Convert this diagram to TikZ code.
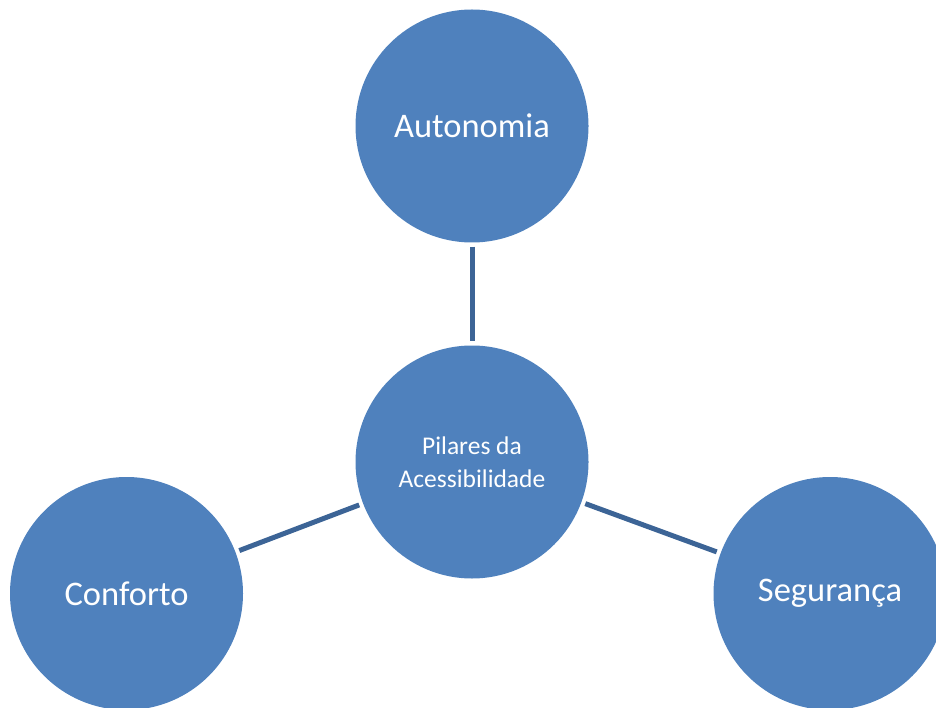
\documentclass[tikz,border=0pt]{standalone}
\usepackage{fontspec}
\setmainfont{Carlito}
\definecolor{fillblue}{HTML}{4F81BD}
\definecolor{lineblue}{HTML}{3C6496}
\begin{document}
\begin{tikzpicture}[x=1pt,y=-1pt,
  pillar/.style={circle,fill=fillblue,draw=none,minimum size=233pt,inner sep=0pt,text=white,font=\fontsize{34.5}{40}\selectfont,align=center},
  hub/.style={pillar,font=\fontsize{25.5}{33}\selectfont},
  link/.style={draw=lineblue,line width=5pt,shorten >=4pt,shorten <=4pt}]
\useasboundingbox (0,0) rectangle (936,708);
\begin{scope}
\clip (0,0) rectangle (936,708);
\node[pillar] (aut) at (472,126) {Autonomia};
\node[hub] (hub) at (472,462) {Pilares da\\Acessibilidade};
\node[pillar] (con) at (126.5,593.5) {Conforto};
\node[pillar] (seg) at (830,593.5) {Segurança};
\draw[link] (aut) -- (hub);
\draw[link] (hub) -- (con);
\draw[link] (hub) -- (seg);
\end{scope}
\end{tikzpicture}
\end{document}
